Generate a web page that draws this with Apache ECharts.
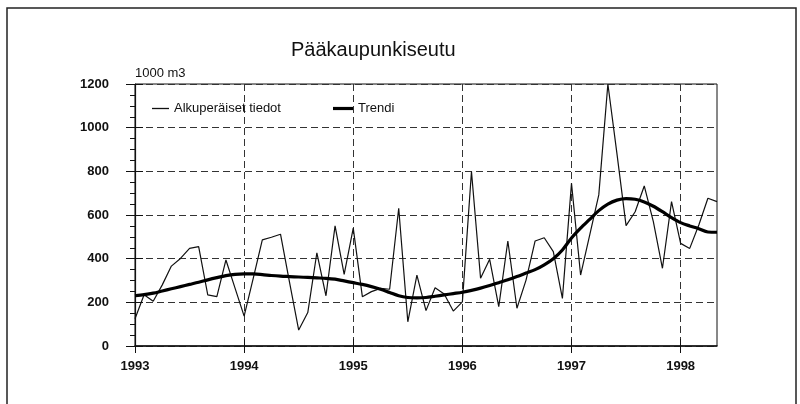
<!DOCTYPE html>
<html>
<head>
<meta charset="utf-8">
<script src="https://cdn.jsdelivr.net/npm/echarts@6/dist/echarts.min.js"></script>
<style>
  html, body { margin: 0; padding: 0; background: #fff; }
  #chart { width: 800px; height: 404px; }
</style>
</head>
<body>
<div id="chart"></div>
<script>
// Pääkaupunkiseutu, kuukausittain 1/1993 - 5/1998
var years = ['1993', '1994', '1995', '1996', '1997', '1998'];
var lastMonth = 5; // toukokuu 1998

var original = [
    125, 235, 205, 280, 366, 401, 447, 455, 234, 226, 394, 265,
    137, 310, 486, 498, 512, 290, 73, 153, 427, 230, 550, 328,
    540, 226, 249, 264, 260, 631, 111, 325, 162, 267, 238, 160,
    202, 799, 310, 397, 180, 481, 173, 302, 481, 496, 432, 218,
    745, 325, 508, 692, 1200, 880, 551, 615, 733, 570, 356, 661,
    470, 447, 554, 677, 661
];
var trend = [
    230, 235, 242, 252, 262, 272, 282, 292, 303, 313, 322, 328,
    330, 330, 327, 323, 320, 318, 316, 314, 312, 310, 306, 298,
    290, 282, 272, 260, 245, 230, 222, 220, 222, 228, 234, 240,
    246, 255, 265, 277, 290, 303, 318, 334, 350, 372, 400, 440,
    495, 540, 580, 620, 650, 668, 675, 672, 660, 640, 615, 588,
    565, 550, 537, 522, 521
];

var months = [];
years.forEach(function (y, i) {
    var n = (i == years.length - 1) ? lastMonth : 12;
    for (var m = 1; m <= n; m++) {
        months.push(y + '-' + (m < 10 ? '0' + m : m));
    }
});

var font = '"Liberation Sans", Arial, sans-serif';
var dash = { color: '#333', width: 1, type: [7, 4] };

var chart = echarts.init(document.getElementById('chart'));
var option = {
    animation: false,
    backgroundColor: '#fff',
    title: {
        text: 'Pääkaupunkiseutu',
        left: 291,
        top: 40,
        padding: 0,
        textStyle: { fontFamily: font, fontSize: 20, fontWeight: 'normal', color: '#111' }
    },
    legend: [
        {
            data: ['Alkuperäiset tiedot'],
            left: 152, top: 102, padding: 0,
            icon: 'rect',
            itemWidth: 17, itemHeight: 1.3,
            itemStyle: { borderWidth: 0 },
            textStyle: { fontFamily: font, fontSize: 13, color: '#111' }
        },
        {
            data: ['Trendi'],
            left: 333, top: 102, padding: 0,
            icon: 'rect',
            itemWidth: 20, itemHeight: 3.2,
            itemStyle: { borderWidth: 0 },
            textStyle: { fontFamily: font, fontSize: 13, color: '#111' }
        }
    ],
    graphic: [
        {
            type: 'rect',
            shape: { x: 7, y: 8, width: 789, height: 420 },
            style: { fill: 'none', stroke: '#222', lineWidth: 1.5 }
        }
    ],
    grid: {
        left: 135, right: 83, top: 84, bottom: 58,
        show: true, borderColor: '#111', borderWidth: 1
    },
    xAxis: [
        {
            type: 'category',
            data: months,
            boundaryGap: false,
            axisLine: { lineStyle: { color: '#111', width: 1.5 } },
            axisTick: { show: true, interval: 11, length: 7, lineStyle: { color: '#111' } },
            axisLabel: {
                interval: 11, margin: 14,
                fontFamily: font, fontSize: 13, fontWeight: 'bold', color: '#111',
                formatter: function (v) { return v.slice(0, 4); }
            },
            splitLine: { show: true, interval: 11, lineStyle: dash }
        },
        {
            type: 'category',
            data: months,
            position: 'bottom',
            boundaryGap: false,
            axisLine: { show: false },
            axisTick: { show: true, inside: true, interval: 11, length: 7, lineStyle: { color: '#111' } },
            axisLabel: { show: false },
            splitLine: { show: false }
        }
    ],
    yAxis: [
        {
            type: 'value',
            min: 0, max: 1200, interval: 200,
            name: '1000 m3',
            nameLocation: 'end',
            nameGap: 4,
            nameTextStyle: { fontFamily: font, fontSize: 13, color: '#111', align: 'left', verticalAlign: 'bottom' },
            axisLine: { show: true, lineStyle: { color: '#111', width: 1.2 } },
            axisTick: { show: true, length: 9, lineStyle: { color: '#111' } },
            minorTick: { show: true, splitNumber: 4, length: 5, lineStyle: { color: '#111' } },
            axisLabel: {
                margin: 26, fontFamily: font, fontSize: 13, fontWeight: 'bold', color: '#111',
                formatter: function (v) { return String(v); }
            },
            splitLine: { show: true, lineStyle: dash }
        },
        {
            type: 'value',
            min: 0, max: 1200, interval: 200,
            position: 'left',
            axisLine: { show: false },
            axisTick: { show: true, inside: true, length: 8, lineStyle: { color: '#111' } },
            axisLabel: { show: false },
            splitLine: { show: false }
        }
    ],
    series: [
        {
            name: 'Alkuperäiset tiedot',
            type: 'line',
            data: original,
            symbol: 'none',
            lineStyle: { color: '#111', width: 1.2 },
            itemStyle: { color: '#111' },
            z: 3
        },
        {
            name: 'Trendi',
            type: 'line',
            data: trend,
            smooth: 0.3,
            symbol: 'none',
            lineStyle: { color: '#000', width: 3.2 },
            itemStyle: { color: '#000' },
            z: 4
        }
    ]
};
chart.setOption(option);
</script>
</body>
</html>
